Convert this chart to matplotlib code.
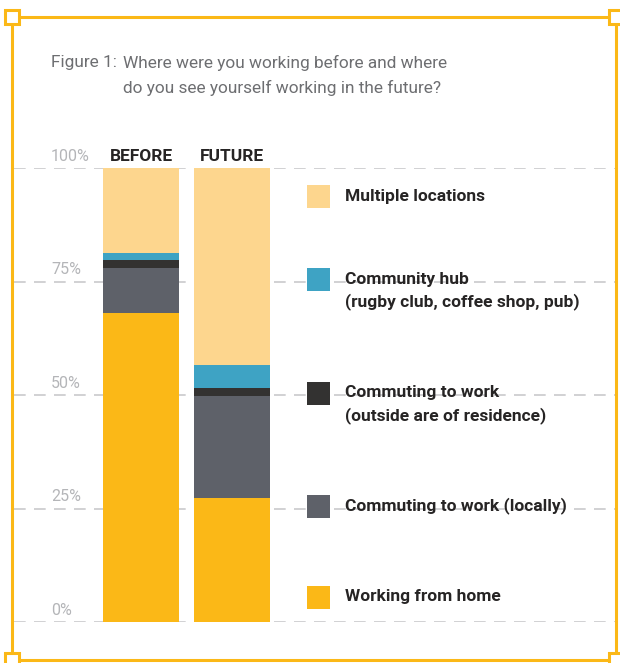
import matplotlib.pyplot as plt
from matplotlib.patches import Rectangle
from matplotlib.lines import Line2D

plt.rcParams['font.family'] = ['Roboto', 'DejaVu Sans']

# 数据
periods = ['BEFORE', 'FUTURE']
categories = ['Working from home', 'Commuting to work (locally)',
              'Commuting to work\n(outside are of residence)',
              'Community hub\n(rugby club, coffee shop, pub)', 'Multiple locations']
working_from_home = [68.1, 27.3]
commuting_local = [9.8, 22.5]
commuting_outside = [1.8, 1.8]
community_hub = [1.5, 5.1]
multiple_locations = [18.8, 43.3]
tick_values = [0, 25, 50, 75, 100]
tick_labels = ['0%', '25%', '50%', '75%', '100%']

colors = ['#fbb817', '#5e6169', '#333231', '#3ea3c4', '#fdd68e']
frame_color = '#fbb817'
text_dark = '#262424'

W, H = 620, 663
fig = plt.figure(figsize=(W / 100, H / 100), dpi=100)


def fx(px):
    return px / W


def fy(py):
    return 1 - py / H


# 外框
for xs, ys in [((12, 616), (17, 17)), ((12, 616), (660, 660)),
               ((12, 12), (17, 660)), ((616, 616), (17, 660))]:
    fig.add_artist(Line2D([fx(x) for x in xs], [fy(y) for y in ys],
                          color=frame_color, lw=2.2, zorder=5))
for cx, cy in [(12, 17), (616, 17), (12, 660), (616, 660)]:
    s = 14
    fig.add_artist(Rectangle((fx(cx - s / 2), fy(cy + s / 2)), s / W, s / H,
                             facecolor='white', edgecolor=frame_color, lw=2.2, zorder=6))

# 标题
title_kw = dict(fontsize=12.4, color='#6d6e71', va='center')
fig.text(fx(51), fy(63), 'Figure 1:', **title_kw)
fig.text(fx(123), fy(63), 'Where were you working before and where', **title_kw)
fig.text(fx(123), fy(88), 'do you see yourself working in the future?', **title_kw)

# 主图
ax = fig.add_axes([fx(14), fy(622), (616 - 14) / W, (622 - 168) / H])
ax.set_ylim(0, 100)
x0 = (141 - 14) / 91
ax.set_xlim(-x0, -x0 + (616 - 14) / 91)
for s in ax.spines.values():
    s.set_visible(False)
ax.set_xticks([])
ax.set_yticks(tick_values)
ax.set_yticklabels([])
ax.tick_params(length=0)
ax.grid(axis='y', color='#c9c9cc', lw=1.2, linestyle=(0, (7, 5)))
ax.set_axisbelow(True)

series = [working_from_home, commuting_local, commuting_outside, community_hub, multiple_locations]
bottom = [0, 0]
for vals, c in zip(series, colors):
    ax.bar([0, 1], vals, bottom=bottom, width=76 / 91, color=c, zorder=3)
    bottom = [b + v for b, v in zip(bottom, vals)]

# 纵轴刻度文字
for v, lab in zip(tick_values, tick_labels):
    ax.annotate(lab, xy=((51 - 14) / 602, v), xycoords=('axes fraction', 'data'),
                xytext=(0, 8.5), textcoords='offset points', fontsize=11.5,
                color='#b4b5b8', va='center', ha='left')

# 柱子标题
for i, p in enumerate(periods):
    ax.annotate(p, xy=(i, 100), xytext=(0, 8.5), textcoords='offset points',
                fontsize=12.5, fontweight='bold', color=text_dark, ha='center', va='center')

# 图例
legend_y = [597, 506, 393, 279, 196]
for lab, c, ly in zip(categories, colors, legend_y):
    fig.add_artist(Rectangle((fx(307), fy(ly + 11.5)), 23 / W, 23 / H,
                             facecolor=c, edgecolor='none', zorder=4))
    for k, line in enumerate(lab.split('\n')):
        fig.text(fx(345), fy(ly + 23 * k), line, fontsize=12.5, fontweight='bold',
                 color=text_dark, va='center', ha='left')

fig.savefig('out.png', dpi=100)
